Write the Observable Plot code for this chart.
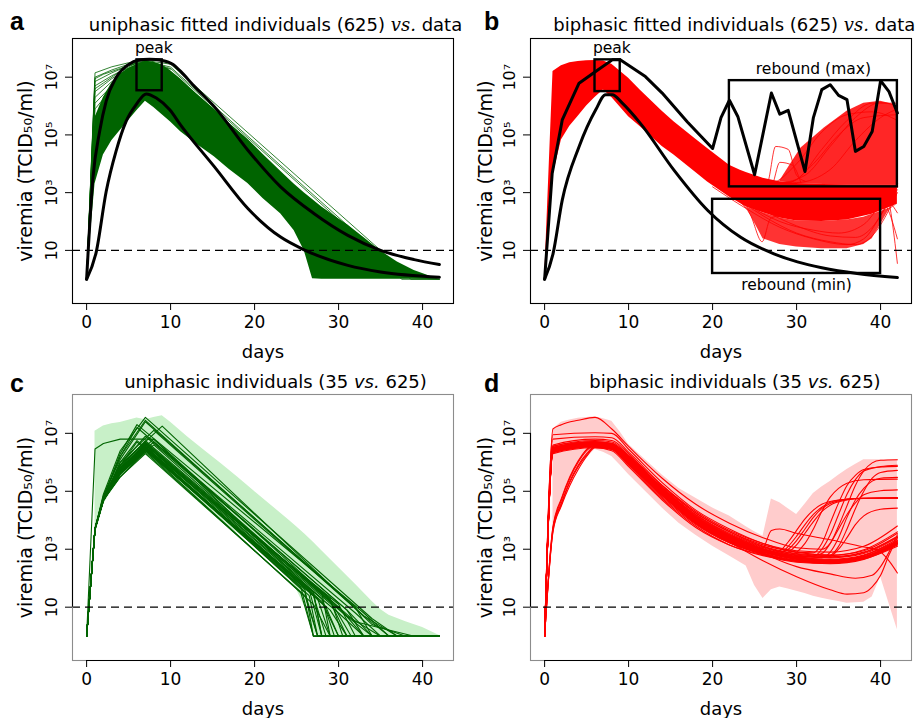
<!DOCTYPE html>
<html><head><meta charset="utf-8">
<script src="https://cdn.jsdelivr.net/npm/d3@7"></script>
<script src="https://cdn.jsdelivr.net/npm/@observablehq/plot@0.6"></script>
<style>
body{margin:0;background:#fff;}
#fig{position:relative;width:921px;height:718px;font-family:"DejaVu Sans",sans-serif;}
#fig svg{position:absolute;overflow:visible;}
</style></head><body><div id="fig"></div>
<script>
// ---------------- data (viremia values stored as log10) ----------------
const xTicks = [0, 10, 20, 30, 40];
const yTickVals = [10, 1e3, 1e5, 1e7];
const yTickLabels = ["10", "10³", "10⁵", "10⁷"];
const detectionLimit = 10;
const xLabel = "days";
const yLabel = "viremia (TCID₅₀/ml)";
const panelLetters = ["a", "b", "c", "d"];
const panelTitles = [
  ["uniphasic fitted individuals (625) ", "vs.", " data"],
  ["biphasic fitted individuals (625) ", "vs.", " data"],
  ["uniphasic individuals (35 ", "vs.", " 625)"],
  ["biphasic individuals (35 ", "vs.", " 625)"]
];

// panel a: envelope of the 625 uniphasic fitted curves
const bandADays = [0,1,2,3,4,5,6,7,8,9,10,11.2,13,15.2,17,19.2,21,23.1,24.7,25.9,26.9,28,30,31.1,33,35,37,39,41.4,42];
const bandALow  = [0,3.3,4.3,4.8,5.15,5.5,5.85,6.17,5.95,5.7,5.45,5.11,4.7,4.24,3.8,3.32,2.8,2.27,1.69,1.0,0.02,0,0,0,0,0,0,0,0,0];
const bandAHigh = [0,5.6,6.3,6.8,7.1,7.3,7.45,7.55,7.52,7.42,7.22,6.94,6.45,5.9,5.4,4.85,4.33,3.74,3.3,3.0,2.76,2.5,2.1,1.88,1.45,0.98,0.6,0.3,0.05,0];
const fanA = [
  [[0,0],[1,7.15],[3,7.36],[5,7.5],[7,7.58],[10,7.45],[35,1.0],[38.6,0],[42,0]],
  [[0,0],[1,7.0],[3,7.25],[5,7.45],[7,7.56],[10,7.35],[34,1.1],[37.5,0],[42,0]],
  [[0,0],[1,6.85],[3,7.15],[5,7.4],[7,7.55],[10,7.3],[33.5,1.15],[36.5,0.1],[42,0]],
  [[0,0],[1,6.7],[3,7.05],[5,7.35],[6,7.5],[10,7.28]],
  [[0,0],[1,6.5],[3,6.95],[5,7.3],[7,7.5]],
  [[0,0],[1,6.3],[3,6.85],[5,7.25],[7,7.48]],
  [[0,0],[1,6.1],[3,6.7],[5,7.2],[6,7.45]],
  [[0,0],[1,5.9],[3,6.6],[5,7.15],[7,7.45]],
  [[0,0],[1,6.95],[2,7.1],[4,7.3],[6,7.5]],
  [[0,0],[1,6.6],[2,6.8],[4,7.2],[6,7.42]]
];
const dataMaxA = [[0,0],[0.75,3.5],[1.55,5.12],[2.33,6.17],[3.5,6.98],[5.1,7.46],[6,7.58],[7.5,7.62],[9,7.58],[10.3,7.44],[11.2,7.2],[12.65,6.74],[15.2,5.98],[19.2,4.47],[23.1,3.2],[27.1,2.27],[31.1,1.52],[35,1.0],[39,0.68],[42,0.51]];
const dataMinA = [[0,0],[1.15,0.95],[2.33,3.04],[3.5,4.43],[4.7,5.47],[5.9,6.05],[7.1,6.42],[8.3,6.28],[9.9,5.87],[11.2,5.34],[15.2,3.9],[19.2,2.45],[23.1,1.46],[25.9,1.02],[31.1,0.48],[35,0.25],[42,0.07]];
const peakBox = {x1: 6, x2: 9, y1: 6.53, y2: 7.6, label: "peak", lx: 8};

// panel b: envelope of the 625 biphasic fitted curves
const bandBDays = [0,1,2,3,4,5,6,7,8,10,11.4,14,15.4,18,19.4,22,23.3,24,26,28,30,33,36,39,42];
const bandBLow  = [0,3.6,4.82,5.3,5.65,6.0,6.3,6.56,6.3,5.63,5.28,4.6,4.3,3.7,3.37,2.85,2.62,2.5,2.3,2.12,2.02,2.0,2.05,2.25,2.6];
const bandBHigh = [0,7.2,7.4,7.5,7.54,7.57,7.58,7.56,7.45,6.96,6.55,5.82,5.46,4.85,4.53,3.95,3.78,3.7,3.5,3.38,3.32,3.28,3.27,3.27,3.27];
const loopBDays = [24,26,28,30,33,36,38,39,40,41,42];
const loopBLow  = [2.5,1.4,1.2,1.12,1.06,1.06,1.2,1.4,1.9,2.4,2.6];
const loopBHigh = [2.5,2.3,2.12,2.02,2.0,2.05,2.15,2.25,2.35,2.45,2.6];
const reboundBDays = [28,30.5,33.3,36,38,40,41.6,42];
const reboundBLow  = [3.38,3.3,3.28,3.27,3.27,3.27,3.27,3.27];
const reboundBHigh = [3.4,4.54,5.24,5.82,6.1,6.17,6.05,5.8];
const extraB = [
  [[20,4.3],[24,3.6],[28,3.35],[31,3.6],[34,4.6],[37,5.6],[40,6.12],[42,6.0]],
  [[20,4.2],[24,3.5],[28,3.3],[30,3.45],[33,4.5],[36,5.5],[39,6.1],[42,6.1]],
  [[20,4.1],[24,3.45],[27,3.35],[30,4.0],[33,5.1],[36,5.7],[39,5.8],[42,5.5]],
  [[20,4.0],[25,3.35],[29,3.35],[32,4.0],[35,5.0],[38,5.6],[42,5.7]],
  [[22,3.8],[26,3.35],[30,3.35],[34,3.8],[37,4.8],[40,5.6],[42,5.9]],
  [[25,3.45],[26.5,3.35],[27.5,4.6],[29,4.5],[30,3.6],[31,3.4]],
  [[25.5,3.35],[27,3.25],[28,4.05],[29.5,3.95],[30.5,3.35]],
  [[20,3.2],[24,2.45],[28,1.8],[32,1.4],[36,1.2],[38,1.4],[40,2.2],[42,3.2]],
  [[20,3.35],[24,2.6],[28,2.0],[32,1.7],[35,1.6],[38,1.9],[40,2.6],[42,3.3]],
  [[22,3.0],[26,2.2],[30,1.6],[34,1.3],[37,1.2],[39,1.5],[41,2.4],[42,3.0]],
  [[22,3.1],[26,2.4],[30,1.85],[34,1.5],[37,1.45],[39,1.8],[41,2.7],[42,3.1]],
  [[22,2.9],[24.5,2.23],[25.9,1.3],[26.9,2.11],[28,2.2]],
  [[38,3.25],[40.5,3.1],[42,0.55]],
  [[38,3.0],[40.5,2.6],[42,1.4]],
  [[38,3.1],[41,2.7],[42,2.3]]
];
const dataMaxB = [[0,0],[0.9,3.66],[2.1,5.52],[4.1,6.79],[6.07,7.2],[8.06,7.6],[9,7.6],[12,7.02],[14,6.45],[17,5.45],[20,4.53],[21,5.6],[22,6.2],[23,5.64],[25,3.62],[27,6.45],[28,5.72],[29,5.85],[31,3.73],[32,5.6],[33,6.57],[34,6.74],[35,6.37],[36,6.22],[37,4.43],[38,4.6],[39,5.12],[40,6.88],[41,6.5],[42,5.76]];
const dataMinB = [[0,0],[1,0.88],[2.1,2.74],[4.1,4.59],[6.07,5.86],[7.26,6.39],[8.06,6.39],[9.25,6.1],[11.4,5.4],[15.4,3.78],[19.4,2.39],[23.3,1.46],[27.3,0.88],[30.1,0.6],[33,0.4],[37.2,0.2],[42,0.06]];
const peakBoxB = {x1: 6, x2: 9, y1: 6.5, y2: 7.6, label: "peak", lx: 8};
const reboundMaxBox = {x1: 22, x2: 42, y1: 3.2, y2: 6.88, label: "rebound (max)", lx: 32};
const reboundMinBox = {x1: 20, x2: 40, y1: 0.2, y2: 2.77, label: "rebound (min)", lx: 30};

// panel c: range of the 625 fits and 35 selected uniphasic individuals
const bandCDays = [1,2,3,4,5,6,7,8,9,10,12,14,16,18,20,22,23,24,25,26,27,28,30,32,34,35,36,38,40,42];
const bandCLow  = [3.75,4.55,5.0,5.4,5.8,6.05,6.26,6.0,5.75,5.48,4.97,4.46,3.95,3.55,3.1,2.65,2.42,2.05,1.6,1.0,0.1,0,0,0,0,0,0,0,0,0];
const bandCHigh = [7.07,7.25,7.33,7.37,7.45,7.53,7.47,7.55,7.61,7.38,6.88,6.42,5.96,5.48,4.99,4.51,4.27,4.03,3.78,3.52,3.24,2.95,2.37,1.79,1.2,0.92,0.72,0.5,0.3,0.02];
// per individual: [day1, day2, day4, peak day, peak, knee day, knee, day reaching floor]
const uniIndividuals = [
  [3.7,4.7,5.6,7,6.45,25.5,1.7,27],
  [3.7,4.7,5.5,7,6.35,25.5,1.5,27],
  [3.65,4.65,5.7,7,6.55,26,1.5,27.5],
  [3.7,4.75,5.8,7,6.6,26.5,1.6,28],
  [3.75,4.8,5.9,6,6.7,27,1.5,28],
  [3.7,4.7,5.6,7,6.5,28,1.2,30],
  [3.7,4.7,5.5,7,6.4,27,1.1,29],
  [3.7,4.7,5.75,7,6.65,29,1.2,31],
  [3.7,4.7,5.65,7,6.55,28.5,1.0,30],
  [3.7,4.7,6.0,6,6.75,30,1.1,32],
  [3.7,4.7,5.8,8,6.8,30,1.0,33],
  [3.7,4.75,5.9,7,6.9,31,0.9,33],
  [3.7,4.7,5.7,8,6.7,31,0.9,34],
  [3.7,4.8,6.2,6,7.2,32,0.8,35],
  [3.7,4.8,6.3,6,7.3,33,0.8,36],
  [3.7,4.9,6.4,7,7.55,34,0.6,37],
  [3.7,4.85,6.1,7,7.4,32,1.0,34],
  [3.7,4.75,6.0,8,7.1,33,0.7,36],
  [3.7,4.7,5.9,9,7.25,34,0.4,38],
  [3.7,4.8,6.2,7,7.45,33,0.7,37],
  [6.46,6.65,6.8,8,6.8,27,1.5,28],
  [3.7,4.7,5.5,7,6.3,26,1.4,27.5],
  [3.7,4.7,5.6,7,6.45,27.5,1.3,29],
  [3.7,4.7,5.8,7,6.6,29.5,1.0,31.5],
  [3.7,4.7,5.7,7,6.5,27,1.4,28.5],
  [3.7,4.7,5.6,7,6.4,30,0.8,33],
  [3.7,4.75,5.9,7,6.7,28,1.5,29],
  [3.7,4.7,5.6,8,6.6,31,0.7,35],
  [3.7,4.7,5.8,7,6.75,32,0.5,39],
  [3.7,4.7,5.7,7,6.6,29,1.3,30.5],
  [3.68,4.68,5.65,7,6.48,26,1.6,27],
  [3.7,4.72,5.75,7,6.62,28,1.3,29.5],
  [3.7,4.7,5.6,7,6.42,29,0.9,31],
  [3.7,4.75,5.85,7,6.68,30.5,0.8,34],
  [3.72,4.72,5.7,7,6.55,26.5,1.4,27.5]
];

// panel d: range of the 625 fits and 35 selected biphasic individuals
const bandDDays = [1,2,3,4,5,6,7,8,9,10,12,14,16,18,20,22,24,25,26,27,28,29,30,31,32,33,34,35,36,37,38,39,40,41,42];
const bandDHigh = [7.15,7.38,7.46,7.52,7.55,7.57,7.5,7.42,7.05,6.62,6.09,5.56,5.1,4.76,4.42,4.15,3.78,3.6,3.45,4.73,4.6,4.4,4.2,4.55,4.92,5.15,5.34,5.55,5.75,5.92,6.09,6.09,6.09,6.09,6.09];
const bandDLow  = [3.79,4.55,5.25,5.75,6.15,6.44,6.35,6.2,5.9,5.58,5.0,4.42,3.9,3.48,3.1,2.77,2.42,1.75,1.3,1.6,1.7,1.63,1.55,1.47,1.38,1.31,1.25,1.2,1.14,1.15,1.17,1.35,2.05,1.14,0.22];
const biIndividuals = [
  [[0,0],[1,6.40],[6,6.60],[8,6.55],[10,6.05],[14,5.00],[18,4.05],[22,3.40],[26,3.00],[30,2.75],[34,2.65],[38,2.80],[42,3.30]],
  [[0,0],[1,6.45],[6,6.65],[8,6.60],[10,6.15],[14,5.10],[18,4.15],[22,3.50],[26,3.05],[30,2.80],[34,2.70],[38,2.85],[42,3.40]],
  [[0,0],[1,6.35],[6,6.55],[8,6.45],[10,5.95],[14,4.85],[18,3.90],[22,3.25],[26,2.85],[30,2.60],[34,2.55],[38,2.70],[42,3.20]],
  [[0,0],[1,6.50],[6,6.70],[8,6.65],[10,6.20],[14,5.15],[18,4.25],[22,3.60],[26,3.15],[30,2.90],[34,2.80],[38,2.95],[42,3.55]],
  [[0,0],[1,6.30],[6,6.50],[8,6.40],[10,5.85],[14,4.70],[18,3.75],[22,3.15],[26,2.80],[30,2.55],[34,2.50],[38,2.65],[42,3.15]],
  [[0,0],[1,6.55],[6,6.75],[8,6.70],[10,6.25],[14,5.20],[18,4.30],[22,3.65],[26,3.20],[30,2.95],[34,2.90],[38,3.10],[42,3.80]],
  [[0,0],[1,6.40],[6,6.60],[8,6.50],[10,6.00],[14,4.95],[18,4.00],[22,3.35],[26,2.95],[30,2.70],[34,2.62],[38,2.75],[42,3.25]],
  [[0,0],[1,6.60],[6,6.80],[8,6.75],[10,6.30],[14,5.05],[18,4.10],[22,3.45],[26,3.00],[30,2.72],[34,2.60],[38,2.72],[42,3.20]],
  [[0,0],[1,6.45],[6,6.60],[8,6.55],[10,6.10],[14,5.00],[18,4.05],[22,3.38],[26,2.92],[30,2.65],[34,2.58],[38,2.70],[42,3.15]],
  [[0,0],[1,6.35],[6,6.55],[8,6.50],[10,6.05],[14,4.90],[18,3.95],[22,3.30],[26,2.90],[30,2.68],[34,2.60],[38,2.78],[42,3.35]],
  [[0,0],[1,6.42],[6,6.62],[8,6.57],[10,6.10],[14,5.02],[18,4.08],[22,3.42],[26,2.97],[30,2.72],[34,2.63],[38,2.78],[42,3.28]],
  [[0,0],[1,6.33],[6,6.53],[8,6.44],[10,5.92],[14,4.80],[18,3.85],[22,3.22],[26,2.83],[30,2.58],[34,2.52],[38,2.68],[42,3.18]],
  [[0,0],[1,6.48],[6,6.68],[8,6.62],[10,6.18],[14,5.12],[18,4.18],[22,3.52],[26,3.08],[30,2.83],[34,2.74],[38,2.90],[42,3.45]],
  [[0,0],[1,6.56],[6,6.72],[8,6.66],[10,6.22],[14,5.12],[18,4.20],[22,3.55],[26,3.10],[30,2.85],[34,2.78],[38,2.98],[42,3.60]],
  [[0,0],[1,6.38],[6,6.58],[8,6.48],[10,6.00],[14,4.92],[18,3.98],[22,3.32],[26,2.92],[30,2.66],[34,2.58],[38,2.74],[42,3.28]],
  [[0,0],[1,3.75],[2,4.60],[3,5.35],[4,5.90],[5,6.30],[6,6.55],[8,6.50],[10,6.00],[14,4.90],[18,3.90],[22,3.25],[26,2.85],[30,2.60],[34,2.55],[38,2.70],[42,3.20]],
  [[0,0],[1,3.60],[2,4.50],[3,5.20],[4,5.75],[5,6.20],[6,6.50],[8,6.45],[10,5.90],[14,4.75],[18,3.80],[22,3.15],[26,2.78],[30,2.58],[34,2.52],[38,2.66],[42,3.10]],
  [[0,0],[1,3.65],[2,4.55],[3,5.30],[4,5.85],[5,6.25],[6,6.52],[8,6.48],[10,5.95],[14,4.85],[18,3.88],[22,3.22],[26,2.82],[30,2.62],[34,2.56],[38,2.72],[42,3.22]],
  [[0,0],[1,3.70],[2,4.70],[3,5.45],[4,6.00],[5,6.40],[6,6.60],[8,6.55],[10,6.05],[14,4.95],[18,4.00],[22,3.30],[26,2.90],[28,2.85],[29,3.10],[30,3.45],[31,3.85],[32,4.20],[33,4.45],[34,4.62],[36,4.73],[38,4.76],[42,4.77]],
  [[0,0],[1,3.80],[2,4.75],[3,5.50],[4,6.05],[5,6.45],[6,6.65],[8,6.60],[10,6.10],[14,5.00],[18,4.05],[22,3.40],[26,2.95],[30,2.70],[33,2.70],[34,2.90],[35,3.40],[36,4.10],[37,4.70],[38,5.10],[39,5.35],[40,5.45],[42,5.48]],
  [[0,0],[1,7.15],[2,7.30],[4,7.45],[6,7.55],[8,7.15],[10,6.55],[14,5.45],[18,4.55],[22,3.90],[26,3.40],[30,3.05],[33,3.00],[34,3.20],[35,3.80],[36,4.50],[37,5.20],[38,5.70],[39,5.98],[40,6.07],[42,6.09]],
  [[0,0],[1,6.95],[6,7.02],[8,7.00],[10,6.45],[14,5.30],[18,4.35],[22,3.70],[26,3.20],[30,2.90],[32,2.88],[33,3.20],[34,3.90],[35,4.60],[36,5.20],[37,5.55],[38,5.75],[40,5.84],[42,5.86]],
  [[0,0],[1,6.80],[6,6.88],[8,6.85],[10,6.35],[14,5.20],[18,4.25],[22,3.60],[26,3.10],[30,2.80],[34,2.80],[35,3.10],[36,3.70],[37,4.40],[38,5.00],[39,5.45],[40,5.65],[42,5.72]],
  [[0,0],[1,6.50],[6,6.68],[8,6.62],[10,6.15],[14,5.05],[18,4.10],[22,3.45],[26,3.00],[29,2.80],[30,2.90],[31,3.20],[32,3.70],[33,4.30],[34,4.80],[35,5.10],[36,5.28],[38,5.40],[42,5.42]],
  [[0,0],[1,6.42],[6,6.62],[8,6.56],[10,6.08],[14,5.00],[18,4.02],[22,3.36],[26,2.92],[30,2.70],[33,2.85],[34,3.20],[35,3.70],[36,4.20],[37,4.60],[38,4.88],[40,5.02],[42,5.05]],
  [[0,0],[1,6.48],[6,6.66],[8,6.60],[10,6.12],[14,5.05],[18,4.08],[22,3.42],[26,2.98],[28,2.90],[29,3.00],[30,3.30],[31,3.70],[32,4.10],[33,4.40],[34,4.58],[36,4.72],[38,4.76],[42,4.76]],
  [[0,0],[1,6.38],[6,6.58],[8,6.50],[10,6.02],[14,4.95],[18,3.98],[22,3.32],[26,2.90],[28,2.82],[29,2.90],[30,3.15],[31,3.55],[32,3.95],[33,4.30],[34,4.52],[36,4.70],[38,4.76],[42,4.78]],
  [[0,0],[1,6.44],[6,6.62],[8,6.56],[10,6.08],[14,4.98],[18,4.02],[22,3.36],[26,2.92],[30,2.68],[34,2.75],[35,3.00],[36,3.40],[37,3.85],[38,4.15],[40,4.38],[42,4.42]],
  [[0,0],[1,6.52],[6,6.70],[8,6.64],[10,6.18],[14,5.08],[18,4.12],[22,3.48],[26,3.02],[30,2.75],[32,2.75],[33,3.00],[34,3.50],[35,4.20],[36,4.90],[37,5.40],[38,5.70],[40,5.85],[42,5.90]],
  [[0,0],[1,6.46],[6,6.64],[8,6.58],[10,6.10],[14,5.02],[18,4.06],[22,3.40],[25,3.00],[26,3.05],[27,3.65],[28,3.70],[30,3.55],[34,3.33],[38,3.08],[39.6,2.98],[41,2.60],[42,2.18]],
  [[0,0],[1,6.36],[6,6.56],[8,6.48],[10,5.98],[14,4.88],[18,3.92],[22,3.25],[26,2.60],[30,2.05],[34,1.60],[36,1.45],[38,1.50],[39,1.70],[40,2.10],[41,2.80],[42,3.40]],
  [[0,0],[1,6.42],[6,6.60],[8,6.52],[10,6.02],[14,4.92],[18,3.96],[22,3.30],[26,2.85],[30,2.40],[34,2.15],[37,2.00],[39,2.10],[40,2.40],[41,2.90],[42,3.50]],
  [[0,0],[1,6.40],[6,6.58],[8,6.52],[10,6.05],[14,4.98],[18,4.02],[22,3.36],[26,2.93],[27,2.88],[28,2.95],[29,3.25],[30,3.65],[31,4.05],[32,4.35],[33,4.55],[35,4.70],[38,4.75],[42,4.76]],
  [[0,0],[1,6.50],[6,6.68],[8,6.62],[10,6.16],[14,5.08],[18,4.12],[22,3.46],[26,3.02],[30,2.78],[34,2.72],[38,2.88],[42,3.42]],
  [[0,0],[1,6.37],[6,6.56],[8,6.47],[10,5.97],[14,4.86],[18,3.92],[22,3.27],[26,2.87],[30,2.63],[34,2.57],[38,2.72],[42,3.24]]
];

// ---------------- helpers ----------------
const darkGreen = "#006400", red = "#ff0000", lightGreen = "#c8f0c8", pink = "#ffcccc";
const xDomain = [-1.68, 43.68];
const yDomain = [10 ** -0.84, 10 ** 8.34];
const font = "DejaVu Sans";
const band = (days, lo, hi) => days.map((d, i) => ({day: d, lo: 10 ** lo[i], hi: 10 ** hi[i]}));
const lines = (list) => list.flatMap((pts, id) => pts.map(([d, v]) => ({id, day: d, vir: 10 ** v})));
const uniKnots = uniIndividuals.map(([v1, v2, v4, tp, vp, tk, vk, tf]) =>
  [[0,0],[1,v1],[2,v2],[4,v4],[tp,vp],[tk,vk],[tf,0],[42,0]]);
const boxRow = (b) => [{x1: b.x1, x2: b.x2, y1: 10 ** b.y1, y2: 10 ** b.y2, lx: b.lx, label: b.label}];

function boxMarks(b, above) {
  return [
    Plot.rect(boxRow(b), {x1: "x1", x2: "x2", y1: "y1", y2: "y2", fill: "none", stroke: "black", strokeWidth: 2.4}),
    Plot.text(boxRow(b), {x: "lx", y: above ? "y2" : "y1", text: "label", fontSize: 15.5,
      lineAnchor: "bottom", dy: above ? -7 : 17})
  ];
}

function makePanel(cfg) {
  const marks = [
    ...cfg.marks,
    Plot.ruleY([detectionLimit], {stroke: "black", strokeWidth: 1.2, strokeDasharray: "8,5"}),
    Plot.frame({stroke: cfg.frame, strokeWidth: 1.1}),
    ...(cfg.frame !== "black" ? [
      Plot.ruleY([yDomain[0]], {x1: xTicks[0], x2: xTicks[xTicks.length - 1], stroke: "black", strokeWidth: 1.1}),
      Plot.ruleX([xDomain[0]], {y1: yTickVals[0], y2: yTickVals[yTickVals.length - 1], stroke: "black", strokeWidth: 1.1})
    ] : []),
    Plot.axisX({ticks: xTicks, tickSize: 7, tickPadding: 5, fontSize: 17, label: null, tickFormat: d => String(d)}),
    Plot.axisY({ticks: yTickVals, tickSize: 7, tickFormat: () => "", label: null}),
    Plot.text(yTickVals, {y: d => d, text: (d, i) => yTickLabels[i], frameAnchor: "left", rotate: -90,
      dx: -16, lineAnchor: "bottom", textAnchor: "middle", fontSize: 16}),
    Plot.text([xLabel], {text: d => d, frameAnchor: "bottom", lineAnchor: "bottom", dy: 54, fontSize: 18}),
    Plot.text([yLabel], {text: d => d, frameAnchor: "left", rotate: -90, lineAnchor: "bottom",
      textAnchor: "middle", dx: -(cfg.ml - 31), fontSize: 19})
  ];
  const svg = Plot.plot({
    width: 460, height: 360,
    marginLeft: cfg.ml, marginRight: cfg.mr, marginTop: cfg.mt, marginBottom: cfg.mb,
    x: {domain: xDomain},
    y: {type: "log", domain: yDomain},
    style: {fontFamily: font, fontSize: "16px", color: "black", background: "transparent", overflow: "visible"},
    marks
  });
  svg.style.left = cfg.left + "px";
  svg.style.top = cfg.top + "px";
  const NS = "http://www.w3.org/2000/svg";
  // title with italic "vs."
  const t = document.createElementNS(NS, "text");
  t.setAttribute("x", cfg.tx); t.setAttribute("y", cfg.ty);
  t.setAttribute("text-anchor", "middle"); t.setAttribute("font-size", "18");
  t.setAttribute("font-family", font); t.setAttribute("fill", "black");
  cfg.title.forEach((p, i) => {
    const s = document.createElementNS(NS, "tspan");
    s.textContent = p;
    if (i === 1) {
      s.setAttribute("font-style", "italic");
      if (cfg.serifVs) s.setAttribute("font-family", "DejaVu Serif");
    }
    t.appendChild(s);
  });
  svg.appendChild(t);
  const l = document.createElementNS(NS, "text");
  l.setAttribute("x", cfg.lx); l.setAttribute("y", cfg.ly);
  l.setAttribute("font-size", "25"); l.setAttribute("font-weight", "bold");
  l.setAttribute("font-family", "Liberation Sans"); l.setAttribute("fill", "black");
  l.textContent = cfg.letter;
  svg.appendChild(l);
  document.getElementById("fig").appendChild(svg);
}

// ---------------- panel a ----------------
makePanel({
  left: 0, top: 0, ml: 72, mr: 7, mt: 38, mb: 57, frame: "black",
  title: panelTitles[0], serifVs: true, tx: 275.5, ty: 31, letter: panelLetters[0], lx: 17, ly: 30,
  marks: [
    Plot.areaY(band(bandADays, bandALow, bandAHigh), {x: "day", y1: "lo", y2: "hi", fill: darkGreen}),
    Plot.line(lines(fanA), {x: "day", y: "vir", z: "id", stroke: darkGreen, strokeWidth: 0.8}),
    Plot.line(lines([dataMaxA, dataMinA]), {x: "day", y: "vir", z: "id", stroke: "black", strokeWidth: 3, curve: "monotone-x"}),
    ...boxMarks(peakBox, true)
  ]
});

// ---------------- panel b ----------------
makePanel({
  left: 460, top: 0, ml: 70, mr: 9, mt: 38, mb: 57, frame: "black",
  title: panelTitles[1], serifVs: true, tx: 274.3, ty: 31, letter: panelLetters[1], lx: 31.7, ly: 30,
  marks: [
    Plot.areaY(band(bandBDays, bandBLow, bandBHigh), {x: "day", y1: "lo", y2: "hi", fill: red}),
    Plot.areaY(band(loopBDays, loopBLow, loopBHigh), {x: "day", y1: "lo", y2: "hi", fill: red, fillOpacity: 0.8}),
    Plot.areaY(band(reboundBDays, reboundBLow, reboundBHigh), {x: "day", y1: "lo", y2: "hi", fill: red, fillOpacity: 0.85}),
    Plot.line(lines(extraB), {x: "day", y: "vir", z: "id", stroke: red, strokeWidth: 0.8, curve: "monotone-x"}),
    Plot.line(lines([dataMaxB]), {x: "day", y: "vir", stroke: "black", strokeWidth: 3}),
    Plot.line(lines([dataMinB]), {x: "day", y: "vir", stroke: "black", strokeWidth: 3, curve: "monotone-x"}),
    ...boxMarks(peakBoxB, true),
    ...boxMarks(reboundMaxBox, true),
    ...boxMarks(reboundMinBox, false)
  ]
});

// ---------------- panel c ----------------
makePanel({
  left: 0, top: 358, ml: 72, mr: 7, mt: 36, mb: 58, frame: "#8c8c8c",
  title: panelTitles[2], serifVs: false, tx: 275.5, ty: 30.3, letter: panelLetters[2], lx: 17, ly: 33.7,
  marks: [
    Plot.areaY(band(bandCDays, bandCLow, bandCHigh), {x: "day", y1: "lo", y2: "hi", fill: lightGreen}),
    Plot.line(lines(uniKnots), {x: "day", y: "vir", z: "id", stroke: darkGreen, strokeWidth: 1.1})
  ]
});

// ---------------- panel d ----------------
makePanel({
  left: 460, top: 358, ml: 70, mr: 9, mt: 36, mb: 58, frame: "#8c8c8c",
  title: panelTitles[3], serifVs: false, tx: 275, ty: 30.3, letter: panelLetters[3], lx: 31.7, ly: 33.7,
  marks: [
    Plot.areaY(band(bandDDays, bandDLow, bandDHigh), {x: "day", y1: "lo", y2: "hi", fill: pink}),
    Plot.line(lines(biIndividuals), {x: "day", y: "vir", z: "id", stroke: red, strokeWidth: 1.1, curve: "monotone-x"})
  ]
});
</script></body></html>
